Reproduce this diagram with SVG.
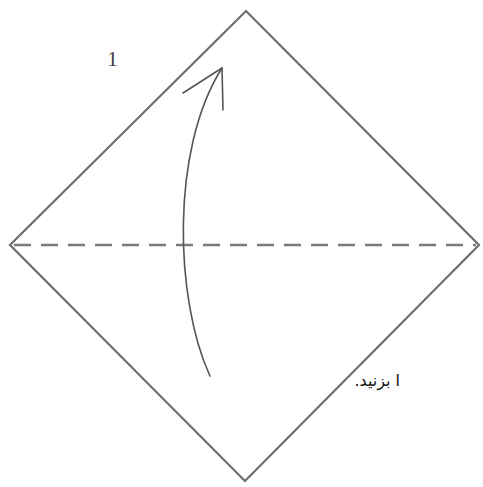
<svg xmlns="http://www.w3.org/2000/svg" width="483" height="487" viewBox="0 0 483 487">
<style>
.edge{fill:#fff;stroke:#6e6e6e;stroke-width:2.2;stroke-linejoin:miter}
.fold{fill:none;stroke:#7a7a7a;stroke-width:2.4;stroke-dasharray:17 10}
.arrow{fill:none;stroke:#555;stroke-width:1.6;stroke-linecap:round;stroke-linejoin:round}
.num{font-family:"Liberation Serif",serif;font-size:22px;fill:#444}
.note{font-family:"DejaVu Sans",sans-serif;font-size:16px;fill:#111}
</style>
<rect width="483" height="487" fill="#fff"/>
<g id="paper"><polygon class="edge" points="246,11 479,245 245,481 10,245"/></g>
<g id="connectors">
<path class="fold" d="M14,245 H476"/>
<path class="arrow" d="M210,376 C175,300 170,150 222,68"/>
<path class="arrow" d="M183,93 L222,68 L223,110"/>
</g>
<g id="label"><text class="num" x="107" y="66">1</text></g>
<g id="note"><text class="note" x="400" y="386" direction="rtl" text-anchor="start">ا بزنید.</text></g>
</svg>
